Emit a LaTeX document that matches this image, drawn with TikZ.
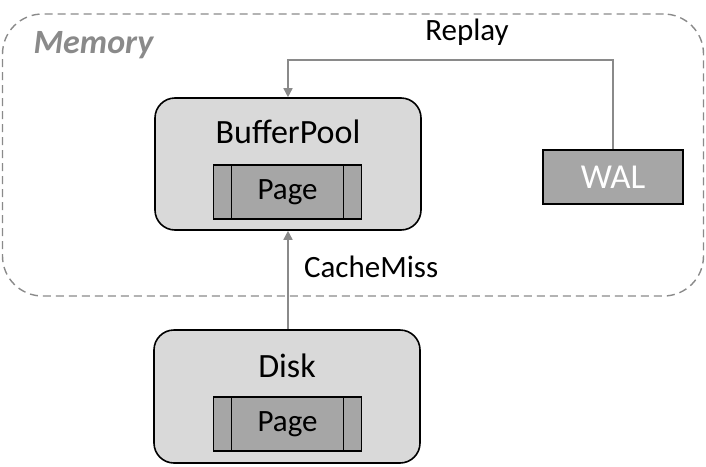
\documentclass[tikz,border=0pt]{standalone}
\usepackage{fontspec}
\setmainfont{Carlito}
\usetikzlibrary{positioning,arrows.meta}
\definecolor{boxgray}{HTML}{D9D9D9}
\definecolor{pagegray}{HTML}{A6A6A6}
\definecolor{linegray}{HTML}{8A8A8A}
\tikzset{
  basic/.style = {draw, rectangle, line width=1.6pt, inner sep=0pt},
  store/.style = {basic, rounded corners=20pt, fill=boxgray, minimum width=266pt, minimum height=132pt},
  title/.style = {font=\fontsize{34}{40}\selectfont},
  pagebox/.style = {basic, fill=pagegray, minimum width=148pt, minimum height=54pt, font=\fontsize{31}{36}\selectfont},
  flow/.style = {draw=linegray, line width=1.5pt, -{Triangle[length=9pt,width=9pt]}},
  tag/.style = {font=\fontsize{31}{36}\selectfont},
}

\begin{document}
\begin{tikzpicture}[x=1pt, y=-1pt]
 \useasboundingbox (0,0) rectangle (706,466);

 % memory region
 \node[draw=linegray, dashed, dash pattern=on 8pt off 5pt, line width=1.4pt, rounded corners=40pt,
   minimum width=701pt, minimum height=282pt, inner sep=0pt] (memory) at (353,155) {};
 \node[text=linegray, font=\fontsize{34}{40}\selectfont\bfseries\itshape, anchor=west] (memlabel) at (30,45) {Memory};

 % buffer pool
 \node[store] (bufferpool) at (288,164) {};
 \node[title] (bptitle) at (288,132) {BufferPool};
 \node[pagebox] (bpage) at (287.5,192) {Page};
 \draw[line width=1pt] ([xshift=19pt]bpage.north west) -- ([xshift=19pt]bpage.south west);
 \draw[line width=1pt] ([xshift=-19pt]bpage.north east) -- ([xshift=-19pt]bpage.south east);

 % wal
 \node[basic, fill=pagegray, minimum width=140pt, minimum height=54pt, text=white,
   font=\fontsize{35}{40}\selectfont] (wal) at (613,177) {WAL};

 % disk
 \node[store, minimum height=133pt] (disk) at (287,396.5) {};
 \node[title] (disktitle) at (287,366) {Disk};
 \node[pagebox] (dpage) at (287.5,424) {Page};
 \draw[line width=1pt] ([xshift=19pt]dpage.north west) -- ([xshift=19pt]dpage.south west);
 \draw[line width=1pt] ([xshift=-19pt]dpage.north east) -- ([xshift=-19pt]dpage.south east);

 % connectors
 \draw[flow] (disk.north -| bufferpool.south) -- (bufferpool.south) node[tag, pos=0.63, right=12pt] (cachemiss) {CacheMiss};
 \draw[flow] (wal.north) -- ++(0,-89) -| (bufferpool.north);
 \node[tag] (replay) at (467,32) {Replay};

\end{tikzpicture}
\end{document}
